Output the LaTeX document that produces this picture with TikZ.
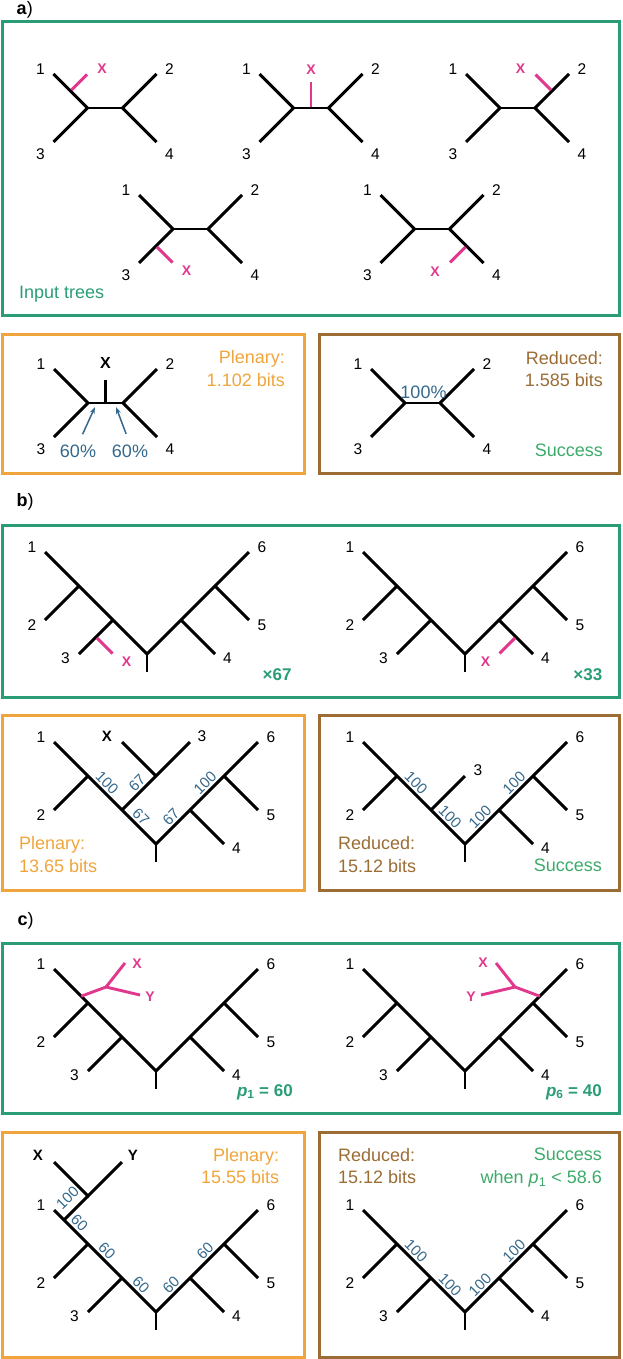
\documentclass[tikz,border=0pt]{standalone}
\usepackage{fontspec}
\setmainfont{Liberation Sans}
\usetikzlibrary{arrows.meta, calc}

\definecolor{FrameGreen}{HTML}{2A9D78}
\definecolor{SuccessGreen}{HTML}{3CAA69}
\definecolor{PlenaryOrange}{HTML}{F0A53C}
\definecolor{ReducedBrown}{HTML}{9B6C34}
\definecolor{GraftMagenta}{HTML}{E1378C}
\definecolor{SupportBlue}{HTML}{34688C}

\tikzset{
    % Tree edges
    branch/.style={
        draw=black,
        line width=2.9pt,
        line join=miter
    },
    graft/.style={
        draw=GraftMagenta,
        line width=2.9pt
    },
    % Panel frames
    frame green/.style={draw=FrameGreen, line width=3pt},
    frame orange/.style={draw=PlenaryOrange, line width=3pt},
    frame brown/.style={draw=ReducedBrown, line width=3pt},
    % Texts
    leaf label/.style={
        inner sep=0pt,
        font=\fontsize{15.5}{18}\selectfont
    },
    graft label/.style={
        inner sep=0pt,
        text=GraftMagenta,
        font=\fontsize{14}{16}\selectfont\bfseries
    },
    taxon label/.style={
        inner sep=0pt,
        font=\fontsize{15}{17}\selectfont\bfseries
    },
    support/.style={
        inner sep=0pt,
        text=SupportBlue,
        font=\fontsize{15}{17}\selectfont
    },
    support dn/.style={support, rotate=-45},
    support up/.style={support, rotate=45},
    score text/.style={
        inner sep=0pt,
        font=\fontsize{18}{22.7}\selectfont
    },
    count text/.style={
        inner sep=0pt,
        anchor=base east,
        text=FrameGreen,
        font=\fontsize{17}{20}\selectfont\bfseries
    },
    panel tag/.style={
        inner sep=0pt,
        anchor=base west,
        font=\fontsize{18}{22}\selectfont
    },
    support arrow/.style={
        -{Stealth[length=7pt, width=5pt]},
        draw=SupportBlue,
        line width=1.5pt
    }
}

\begin{document}
\begin{tikzpicture}[x=1pt, y=-1pt]
    \useasboundingbox (0,0) rectangle (622,1359);

    % Panel tags
    \node[panel tag] (tag a) at (16.5,15) {\textbf{a})};
    \node[panel tag] (tag b) at (16.5,506.5) {\textbf{b})};
    \node[panel tag] (tag c) at (17.5,925) {\textbf{c})};

    % Frames
    \draw[frame green] (2,22) rectangle (619.5,315);
    \draw[frame orange] (2,334) rectangle (304,473);
    \draw[frame brown] (319,334) rectangle (619.5,473);
    \draw[frame green] (2,525) rectangle (619.5,697);
    \draw[frame orange] (2,715) rectangle (304,890);
    \draw[frame brown] (319,715) rectangle (619.5,890);
    \draw[frame green] (2,943) rectangle (619.5,1113);
    \draw[frame orange] (2,1132) rectangle (304,1357);
    \draw[frame brown] (319,1132) rectangle (619.5,1357);

    % Quartet trees (panel a)
    \foreach \q/\cx/\cy in {qa/105/108, qb/311/108, qc/517.5/108, qd/190.5/229, qe/432/229, qp/105.5/403, qr/422.5/403} {
        \coordinate (\q-c) at (\cx,\cy);
        \coordinate (\q-L) at ($(\q-c)+(-17.5,0)$);
        \coordinate (\q-R) at ($(\q-c)+(17.5,0)$);
        \coordinate (\q-1) at ($(\q-L)+(-34,-34)$);
        \coordinate (\q-3) at ($(\q-L)+(-34,34)$);
        \coordinate (\q-2) at ($(\q-R)+(34,-34)$);
        \coordinate (\q-4) at ($(\q-R)+(34,34)$);
        \draw[branch] (\q-1) -- (\q-L) -- (\q-3);
        \draw[branch] (\q-2) -- (\q-R) -- (\q-4);
        \draw[branch] (\q-L) -- (\q-R);
        \node[leaf label] (\q-t1) at ($(\q-1)+(-13,-5)$) {1};
        \node[leaf label] (\q-t2) at ($(\q-2)+(13,-5)$) {2};
        \node[leaf label] (\q-t3) at ($(\q-3)+(-13,12.5)$) {3};
        \node[leaf label] (\q-t4) at ($(\q-4)+(13,12.5)$) {4};
    }

    % Grafted X in the input trees
    \coordinate (qa-g) at ($(qa-L)!0.5!(qa-1)$);
    \draw[graft, shorten <=1.4pt] (qa-g) -- ++(16.5,-16.5) coordinate (qa-x);
    \node[graft label] (qa-xl) at ($(qa-x)+(15,-6)$) {X};
    \draw[graft, shorten <=1.4pt] (qb-c) -- ++(0,-26) coordinate (qb-x);
    \node[graft label] (qb-xl) at ($(qb-x)+(0,-12)$) {X};
    \coordinate (qc-g) at ($(qc-R)!0.5!(qc-2)$);
    \draw[graft, shorten <=1.4pt] (qc-g) -- ++(-16.5,-16.5) coordinate (qc-x);
    \node[graft label] (qc-xl) at ($(qc-x)+(-15,-6)$) {X};
    \coordinate (qd-g) at ($(qd-L)!0.5!(qd-3)$);
    \draw[graft, shorten <=1.4pt] (qd-g) -- ++(16.5,16.5) coordinate (qd-x);
    \node[graft label] (qd-xl) at ($(qd-x)+(14,8)$) {X};
    \coordinate (qe-g) at ($(qe-R)!0.5!(qe-4)$);
    \draw[graft, shorten <=1.4pt] (qe-g) -- ++(-16.5,16.5) coordinate (qe-x);
    \node[graft label] (qe-xl) at ($(qe-x)+(-15,9)$) {X};
    \node[score text, anchor=base west, text=FrameGreen] (input) at (19,298) {Input trees};

    % Plenary and reduced consensus (panel a)
    \draw[branch] (qp-c) -- ++(0,-23) coordinate (qp-x);
    \node[taxon label, font=\fontsize{16}{18}\selectfont\bfseries] (qp-xl) at ($(qp-x)+(0,-17)$) {X};
    \node[score text, anchor=base, text=SupportBlue] (qp-s1) at (78,457) {60\%};
    \node[score text, anchor=base, text=SupportBlue] (qp-s2) at (130,457) {60\%};
    \coordinate (qp-a1) at ($(qp-L)!0.2!(qp-R)+(0,4)$);
    \coordinate (qp-a2) at ($(qp-L)!0.8!(qp-R)+(0,4)$);
    \draw[support arrow, shorten <=11pt] (qp-s1.north) -- (qp-a1);
    \draw[support arrow, shorten <=11pt] (qp-s2.north) -- (qp-a2);
    \node[score text, anchor=north east, align=right, text=PlenaryOrange] (plen a) at (285,350.4) {Plenary:\\1.102 bits};
    \node[score text, anchor=base, text=SupportBlue] (qr-s) at (423.5,398) {100\%};
    \node[score text, anchor=north east, align=right, text=ReducedBrown] (red a) at (603,351) {Reduced:\\1.585 bits};
    \node[score text, anchor=base east, text=SuccessGreen] (succ a) at (603,456) {Success};

    % Six-taxon trees (panels b and c)
    \foreach \s/\rx/\ry in {ba/147/654, bb/465/654, bp/156/844, br/465/844, ca/156/1071, cb/465/1071, cp/156/1312, cr/465/1312} {
        \coordinate (\s-r) at (\rx,\ry);
        \coordinate (\s-a) at ($(\s-r)+(-68,-68)$);
        \coordinate (\s-b) at ($(\s-r)+(-34,-34)$);
        \coordinate (\s-c) at ($(\s-r)+(34,-34)$);
        \coordinate (\s-d) at ($(\s-r)+(68,-68)$);
        \coordinate (\s-1) at ($(\s-r)+(-102,-102)$);
        \coordinate (\s-2) at ($(\s-r)+(-102,-34)$);
        \coordinate (\s-4) at ($(\s-r)+(68,0)$);
        \coordinate (\s-5) at ($(\s-r)+(102,-34)$);
        \coordinate (\s-6) at ($(\s-r)+(102,-102)$);
        \coordinate (\s-0) at ($(\s-r)+(0,18)$);
        \draw[branch] (\s-1) -- (\s-a) -- (\s-b) -- (\s-r) -- (\s-c) -- (\s-d) -- (\s-6);
        \draw[branch] (\s-a) -- (\s-2);
        \draw[branch] (\s-c) -- (\s-4);
        \draw[branch] (\s-d) -- (\s-5);
        \draw[branch] (\s-r) -- (\s-0);
        \node[leaf label] (\s-t1) at ($(\s-1)+(-13,-5)$) {1};
        \node[leaf label] (\s-t2) at ($(\s-2)+(-13,5)$) {2};
        \node[leaf label] (\s-t4) at ($(\s-4)+(12.5,4)$) {4};
        \node[leaf label] (\s-t5) at ($(\s-5)+(13,5)$) {5};
        \node[leaf label] (\s-t6) at ($(\s-6)+(13,-5)$) {6};
    }
    \foreach \s in {ba,bb,ca,cb,cp,cr} {
        \coordinate (\s-3) at ($(\s-b)+(-34,34)$);
        \draw[branch] (\s-b) -- (\s-3);
        \node[leaf label] (\s-t3) at ($(\s-3)+(-13.5,4)$) {3};
    }

    % Input trees (panel b)
    \coordinate (ba-g) at ($(ba-b)!0.5!(ba-3)$);
    \draw[graft, shorten <=1.4pt] (ba-g) -- ++(16.5,16.5) coordinate (ba-x);
    \node[graft label] (ba-xl) at ($(ba-x)+(14,8)$) {X};
    \coordinate (bb-g) at ($(bb-c)!0.5!(bb-4)$);
    \draw[graft, shorten <=1.4pt] (bb-g) -- ++(-16.5,16.5) coordinate (bb-x);
    \node[graft label] (bb-xl) at ($(bb-x)+(-14,8)$) {X};
    \node[count text] (ba-n) at (291.7,680) {×67};
    \node[count text] (bb-n) at (602.5,680) {×33};

    % Plenary consensus (panel b)
    \coordinate (bp-e) at ($(bp-b)+(34,-34)$);
    \coordinate (bp-3) at ($(bp-e)+(34,-34)$);
    \coordinate (bp-x) at ($(bp-e)+(-34,-34)$);
    \draw[branch] (bp-b) -- (bp-e) -- (bp-3);
    \draw[branch] (bp-e) -- (bp-x);
    \node[taxon label] (bp-xl) at ($(bp-x)+(-15,-6)$) {X};
    \node[leaf label] (bp-t3) at ($(bp-3)+(12,-6)$) {3};
    \node[support dn] (bp-s1) at ($(bp-a)!0.5!(bp-b)+(2,-10.5)$) {100};
    \node[support up] (bp-s2) at ($(bp-b)!0.5!(bp-e)+(-2,-10.5)$) {67};
    \node[support dn] (bp-s3) at ($(bp-b)!0.5!(bp-r)+(2,-10.5)$) {67};
    \node[support up] (bp-s4) at ($(bp-r)!0.5!(bp-c)+(-2,-10.5)$) {67};
    \node[support up] (bp-s5) at ($(bp-c)!0.5!(bp-d)+(-2,-10.5)$) {100};
    \node[score text, anchor=north west, align=left, text=PlenaryOrange] (plen b) at (19,836.5) {Plenary:\\13.65 bits};

    % Reduced consensus (panel b)
    \coordinate (br-3) at ($(br-b)+(34,-34)$);
    \draw[branch] (br-b) -- (br-3);
    \node[leaf label] (br-t3) at ($(br-3)+(13,-6)$) {3};
    \node[support dn] (br-s1) at ($(br-a)!0.5!(br-b)+(2,-10.5)$) {100};
    \node[support dn] (br-s2) at ($(br-b)!0.5!(br-r)+(2,-10.5)$) {100};
    \node[support up] (br-s3) at ($(br-r)!0.5!(br-c)+(-2,-10.5)$) {100};
    \node[support up] (br-s4) at ($(br-c)!0.5!(br-d)+(-2,-10.5)$) {100};
    \node[score text, anchor=north west, align=left, text=ReducedBrown] (red b) at (338,836.5) {Reduced:\\15.12 bits};
    \node[score text, anchor=base east, text=SuccessGreen] (succ b) at (602,871.5) {Success};

    % Input trees (panel c)
    \coordinate (ca-g) at ($(ca-1)!0.8!(ca-a)$);
    \coordinate (ca-m) at ($(ca-r)+(-50,-84)$);
    \coordinate (ca-x) at ($(ca-r)+(-31,-108)$);
    \coordinate (ca-y) at ($(ca-r)+(-16,-76)$);
    \draw[graft] (ca-g) -- (ca-m);
    \draw[graft] (ca-x) -- (ca-m) -- (ca-y);
    \node[graft label] (ca-xl) at ($(ca-x)+(12,1)$) {X};
    \node[graft label] (ca-yl) at ($(ca-y)+(10,2)$) {Y};
    \coordinate (cb-g) at ($(cb-6)!0.8!(cb-d)$);
    \coordinate (cb-m) at ($(cb-r)+(50,-84)$);
    \coordinate (cb-x) at ($(cb-r)+(31,-108)$);
    \coordinate (cb-y) at ($(cb-r)+(16,-76)$);
    \draw[graft] (cb-g) -- (cb-m);
    \draw[graft] (cb-x) -- (cb-m) -- (cb-y);
    \node[graft label] (cb-xl) at ($(cb-x)+(-13,0)$) {X};
    \node[graft label] (cb-yl) at ($(cb-y)+(-10,2)$) {Y};
    \node[count text] (ca-p) at (293,1096) {\textit{p}\textsubscript{1} = 60};
    \node[count text] (cb-p) at (602,1096) {\textit{p}\textsubscript{6} = 40};

    % Plenary consensus (panel c)
    \coordinate (cp-p) at ($(cp-a)+(-24,-24)$);
    \coordinate (cp-n) at ($(cp-p)+(24,-24)$);
    \coordinate (cp-x) at ($(cp-n)+(-34,-34)$);
    \coordinate (cp-y) at ($(cp-n)+(34,-34)$);
    \draw[branch] (cp-p) -- (cp-n);
    \draw[branch] (cp-x) -- (cp-n) -- (cp-y);
    \node[taxon label] (cp-xl) at ($(cp-x)+(-16,-7)$) {X};
    \node[taxon label] (cp-yl) at ($(cp-y)+(11,-7)$) {Y};
    \node[support up] (cp-s0) at ($(cp-p)!0.5!(cp-n)+(-8.5,-10.5)$) {100};
    \node[support dn] (cp-s1) at ($(cp-p)!0.5!(cp-a)+(3.5,-9.5)$) {60};
    \node[support dn] (cp-s2) at ($(cp-a)!0.5!(cp-b)+(2,-10.5)$) {60};
    \node[support dn] (cp-s3) at ($(cp-b)!0.5!(cp-r)+(2,-10.5)$) {60};
    \node[support up] (cp-s4) at ($(cp-r)!0.5!(cp-c)+(-2,-10.5)$) {60};
    \node[support up] (cp-s5) at ($(cp-c)!0.5!(cp-d)+(-2,-10.5)$) {60};
    \node[score text, anchor=north east, align=right, text=PlenaryOrange] (plen c) at (279.3,1148) {Plenary:\\15.55 bits};

    % Reduced consensus (panel c)
    \node[support dn] (cr-s1) at ($(cr-a)!0.5!(cr-b)+(2,-10.5)$) {100};
    \node[support dn] (cr-s2) at ($(cr-b)!0.5!(cr-r)+(2,-10.5)$) {100};
    \node[support up] (cr-s3) at ($(cr-r)!0.5!(cr-c)+(-2,-10.5)$) {100};
    \node[support up] (cr-s4) at ($(cr-c)!0.5!(cr-d)+(-2,-10.5)$) {100};
    \node[score text, anchor=north west, align=left, text=ReducedBrown] (red c) at (338,1148) {Reduced:\\15.12 bits};
    \node[score text, anchor=north east, align=right, text=SuccessGreen] (succ c) at (602,1148) {Success\\when \textit{p}\textsubscript{1} < 58.6};
\end{tikzpicture}
\end{document}
